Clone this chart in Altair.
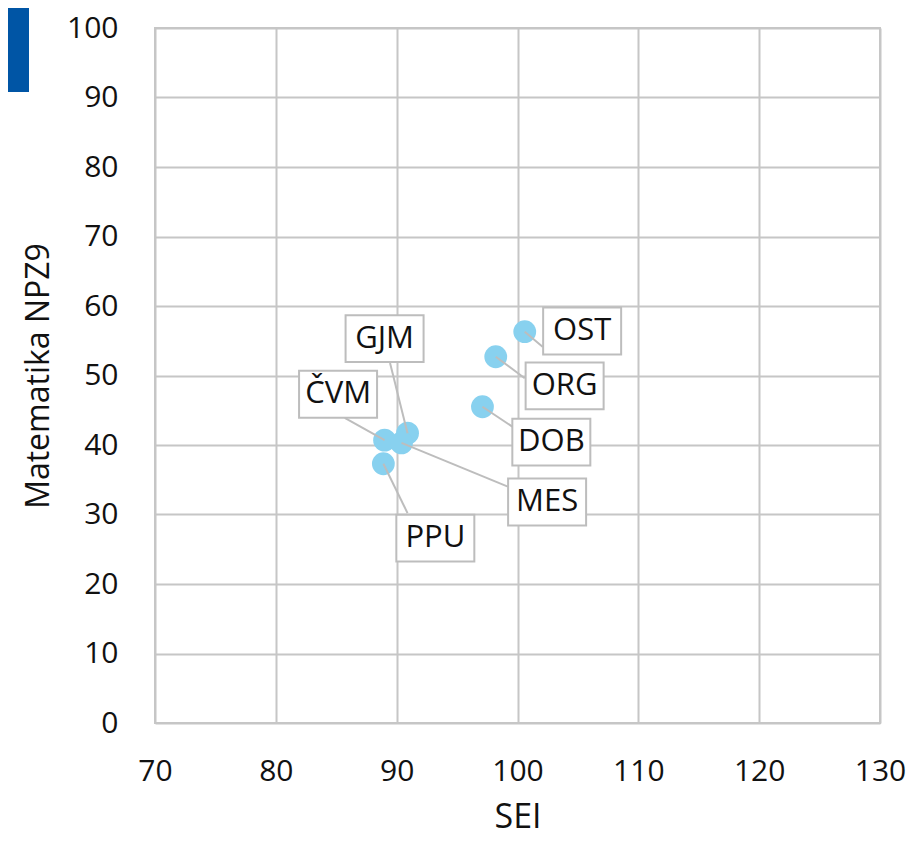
import altair as alt
import pandas as pd

schools = ["OST", "ORG", "DOB", "GJM", "ČVM", "MES", "PPU"]
sei = [100.6, 98.2, 97.1, 90.9, 89.0, 90.4, 88.9]
npz9 = [56.3, 52.7, 45.5, 41.7, 40.7, 40.3, 37.3]
label_x = [105.35, 103.9, 102.8, 89.0, 85.15, 102.45, 93.2]
label_y = [56.4, 48.5, 40.4, 55.3, 47.3, 31.8, 26.6]
leader_x = [102.1, 100.6, 99.6, 89.45, 85.7, 99.2, 90.9]
leader_y = [54.1, 49.6, 42.6, 51.8, 43.9, 34.0, 30.2]

df = pd.DataFrame({
    "school": schools, "SEI": sei, "NPZ9": npz9,
    "lx": label_x, "ly": label_y, "ex": leader_x, "ey": leader_y,
})

FONT = "Open Sans"
GRID = "#c6c6c6"
TXT = "#111111"

xs = alt.Scale(domain=[70, 130], nice=False, zero=False)
ys = alt.Scale(domain=[0, 100], nice=False)

x_axis = alt.Axis(values=list(range(70, 131, 10)), grid=True, gridColor=GRID, gridWidth=2,
                  domain=False, ticks=False, labelFontSize=30, labelFont=FONT,
                  labelColor=TXT, labelPadding=33, labelFlush=False, labelOverlap=False,
                  title="SEI", titleFont=FONT,
                  titleFontSize=34, titleFontWeight="normal", titleColor=TXT, titlePadding=14)
y_axis = alt.Axis(values=list(range(0, 101, 10)), grid=True, gridColor=GRID, gridWidth=2,
                  domain=False, ticks=False, labelFontSize=30, labelFont=FONT,
                  labelColor=TXT, labelPadding=37, labelFlush=False, labelOverlap=False,
                  title="Matematika NPZ9", titleFont=FONT,
                  titleFontSize=32, titleFontWeight="normal", titleColor=TXT, titlePadding=11)

base = alt.Chart(df)

points = base.mark_circle(size=520, color="#88d1ef", opacity=1).encode(
    x=alt.X("SEI:Q", scale=xs, axis=x_axis),
    y=alt.Y("NPZ9:Q", scale=ys, axis=y_axis),
)

leaders = base.mark_rule(color="#bdbdbd", strokeWidth=2).encode(
    x=alt.X("SEI:Q", scale=xs), y=alt.Y("NPZ9:Q", scale=ys),
    x2="ex:Q", y2="ey:Q",
)

boxes = base.mark_point(
    shape="M-1,-0.6H1V0.6H-1Z", size=6084, filled=True, fill="white",
    stroke="#bdbdbd", strokeWidth=2, opacity=1,
).encode(x=alt.X("lx:Q", scale=xs), y=alt.Y("ly:Q", scale=ys))

texts = base.mark_text(font=FONT, fontSize=31, color=TXT, baseline="middle",
                       align="center").encode(
    x=alt.X("lx:Q", scale=xs), y=alt.Y("ly:Q", scale=ys), text="school:N",
)

blue = alt.Chart(pd.DataFrame({"a": [0]})).mark_rect(color="#0055a5").encode(
    x=alt.value(-147), x2=alt.value(-126), y=alt.value(-20), y2=alt.value(64),
)

chart = alt.layer(points, leaders, boxes, texts, blue).properties(
    width=725, height=695,
    autosize=alt.AutoSizeParams(type="none"),
    padding={"left": 147, "top": 20, "right": 27, "bottom": 116},
).configure_view(stroke=GRID, strokeWidth=2)

chart.save("out.html", embed_options={"renderer": "svg", "actions": False})
